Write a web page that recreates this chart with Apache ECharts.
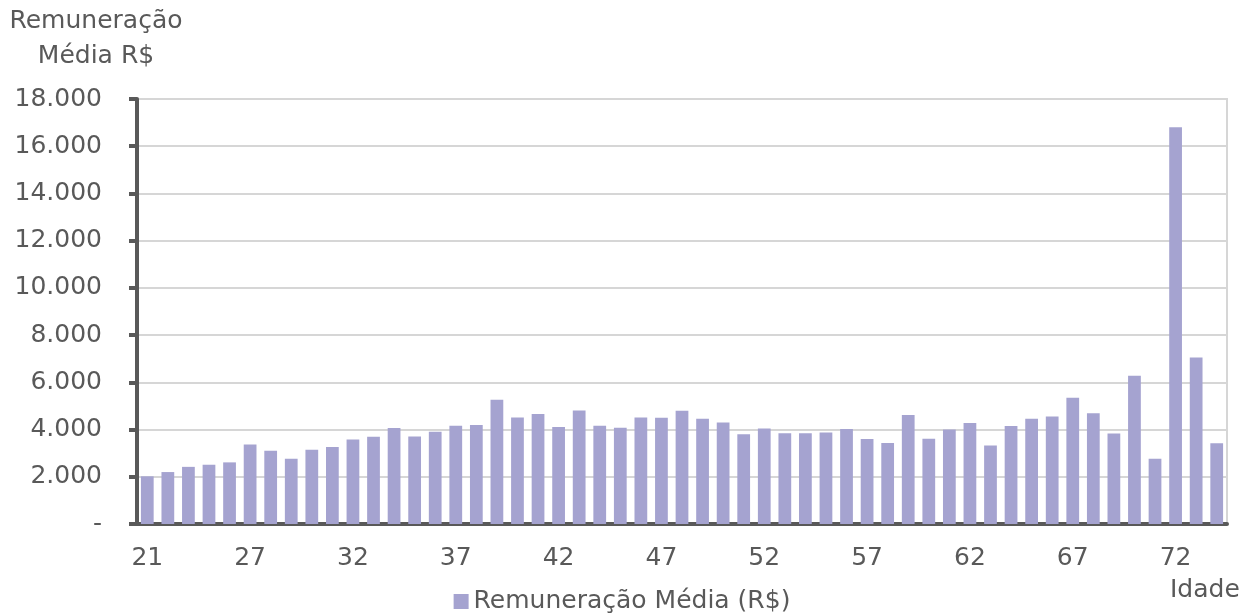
<!DOCTYPE html>
<html>
<head>
<meta charset="utf-8">
<script src="https://cdn.jsdelivr.net/npm/echarts@6/dist/echarts.min.js"></script>
<style>
  html, body { margin: 0; padding: 0; background: #fff; }
  #main { width: 1244px; height: 615px; }
</style>
</head>
<body>
<div id="main"></div>
<script>
// idade (categorias do eixo x)
const idades = ["21", "23", "24", "25", "26", "27", "28", "29", "30", "31",
  "32", "33", "34", "35", "36", "37", "38", "39", "40", "41",
  "42", "43", "44", "45", "46", "47", "48", "49", "50", "51",
  "52", "53", "54", "55", "56", "57", "58", "59", "60", "61",
  "62", "63", "64", "65", "66", "67", "68", "69", "70", "71",
  "72", "73", "74"];

// remuneração média em R$
const remuneracao = [2020, 2200, 2420, 2510, 2610, 3370, 3100, 2760, 3150, 3260,
  3580, 3700, 4070, 3710, 3910, 4160, 4190, 5260, 4510, 4660,
  4110, 4810, 4160, 4080, 4510, 4500, 4800, 4460, 4300, 3800,
  4050, 3840, 3840, 3880, 4020, 3600, 3430, 4620, 3610, 4000,
  4280, 3330, 4150, 4460, 4550, 5350, 4690, 3830, 6280, 2760,
  16800, 7050, 3420];

const serieNome = "Remuneração Média (R$)";

const fonte = "DejaVu Sans";
const cinzaTexto = "#595959";
const tamanho = 25;

function formatarMilhar(v) {
  if (v === 0) return "-";
  return String(v).replace(/\B(?=(\d{3})+(?!\d))/g, ".");
}

const myChart = echarts.init(document.getElementById("main"));

let option = {
  animation: false,
  textStyle: { fontFamily: fonte, color: cinzaTexto },
  grid: {
    left: 137,
    right: 17,
    top: 99,
    bottom: 91,
    show: true,
    borderColor: "#d6d6d6",
    borderWidth: 2,
  },
  legend: {
    data: [serieNome],
    left: "center",
    top: 584,
    icon: "rect",
    itemWidth: 15,
    itemHeight: 15,
    itemGap: 8,
    textStyle: { fontFamily: fonte, fontSize: tamanho, color: cinzaTexto },
  },
  xAxis: {
    type: "category",
    data: idades,
    axisLine: { lineStyle: { color: cinzaTexto, width: 4 } },
    axisTick: {
      interval: 4,
      alignWithLabel: false,
      length: 9,
      lineStyle: { color: cinzaTexto, width: 4 },
    },
    axisLabel: {
      interval: 4,
      margin: 22,
      fontFamily: fonte,
      fontSize: tamanho,
      color: cinzaTexto,
    },
  },
  yAxis: {
    type: "value",
    min: 0,
    max: 18000,
    interval: 2000,
    axisLine: { show: true, lineStyle: { color: cinzaTexto, width: 4 } },
    axisTick: { show: true, length: 8, lineStyle: { color: cinzaTexto, width: 4 } },
    axisLabel: {
      margin: 35,
      fontFamily: fonte,
      fontSize: tamanho,
      color: cinzaTexto,
      formatter: formatarMilhar,
    },
    splitLine: { lineStyle: { color: "#d6d6d6", width: 2 } },
  },
  graphic: [
    {
      type: "text",
      x: 96,
      y: 9,
      style: {
        text: "Remuneração",
        font: tamanho + "px " + fonte,
        fill: cinzaTexto,
        align: "center",
      },
    },
    {
      type: "text",
      x: 96,
      y: 44,
      style: {
        text: "Média R$",
        font: tamanho + "px " + fonte,
        fill: cinzaTexto,
        align: "center",
      },
    },
    {
      type: "text",
      x: 1170,
      y: 578,
      style: { text: "Idade", font: tamanho + "px " + fonte, fill: cinzaTexto },
    },
  ],
  series: [
    {
      name: serieNome,
      type: "bar",
      data: remuneracao,
      barCategoryGap: "38%",
      itemStyle: { color: "#a5a3d0" },
    },
  ],
};
myChart.setOption(option);
</script>
</body>
</html>
